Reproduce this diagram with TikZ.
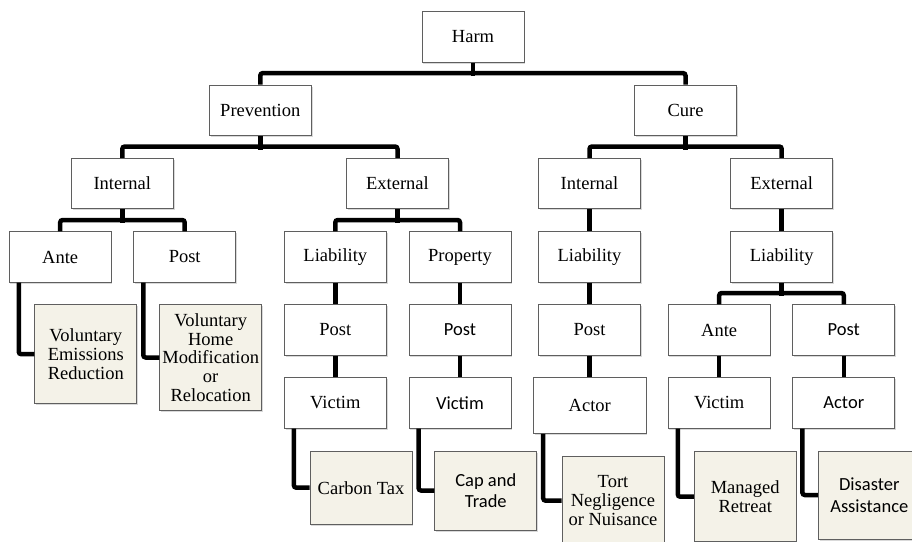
\documentclass[tikz,border=0pt]{standalone}
\usepackage{fontspec}
\setmainfont{Liberation Serif}
\newfontfamily\calibfont{Carlito}
\usetikzlibrary{shadows}
\definecolor{boxgray}{RGB}{95,95,95}
\definecolor{leafcol}{RGB}{244,242,232}
\begin{document}
\begin{tikzpicture}[x=1pt,y=-1pt,
  box/.style={draw=boxgray,line width=0.9pt,fill=white,minimum width=102pt,minimum height=50.5pt,inner sep=0pt,
    font=\fontsize{18.5}{18.7}\selectfont,
    drop shadow={shadow xshift=1.2pt,shadow yshift=-1.6pt,opacity=0.3}},
  sf/.style={font=\calibfont\fontsize{18.5}{21.5}\selectfont},
  leaf/.style={box,fill=leafcol,align=center},
  conn/.style={line width=4.5pt,rounded corners=2.5pt},
  stem/.style={line width=4.5pt}]
\clip (0,0) rectangle (912,541);
% level nodes
\node[box] (harm) at (473,37) {Harm};
\node[box] (prev) at (260.3,110.3) {Prevention};
\node[box] (cure) at (685.5,110.3) {Cure};
\node[box] (pint) at (122.3,183.5) {Internal};
\node[box] (pext) at (397.5,183.5) {External};
\node[box] (cint) at (589.5,183.5) {Internal};
\node[box] (cext) at (781.7,183.5) {External};
\node[box] (pante) at (60.2,257) {Ante};
\node[box] (ppost) at (184.7,257) {Post};
\node[box] (pliab) at (335.3,257) {Liability};
\node[box] (pprop) at (460,257) {Property};
\node[box] (cliab) at (589.5,257) {Liability};
\node[box] (celiab) at (781.7,257) {Liability};
\node[box] (lpost) at (335.3,330) {Post};
\node[box,sf] (prpost) at (460,330) {Post};
\node[box] (cipost) at (589.5,330) {Post};
\node[box] (ceante) at (719.2,330) {Ante};
\node[box,sf] (cepost) at (843.8,330) {Post};
\node[box] (lvict) at (335.3,403) {Victim};
\node[box,sf] (prvict) at (460,403) {Victim};
\node[box,minimum width=112.3pt,minimum height=55.6pt] (ciact) at (589.8,405.5) {Actor};
\node[box] (cevict) at (719.2,403) {Victim};
\node[box,sf] (ceact) at (843.8,403) {Actor};
% leaves
\node[leaf,minimum height=99pt] (ver) at (85.8,354.2) {Voluntary\\Emissions\\Reduction};
\node[leaf,minimum height=105.6pt] (vhm) at (210.7,357.5) {Voluntary\\Home\\Modification\\or\\Relocation};
\node[leaf,minimum height=73.3pt] (ctax) at (361,487.7) {Carbon Tax};
\node[leaf,sf,minimum height=79pt] (cat) at (485.8,490.5) {Cap and\\Trade};
\node[leaf,minimum height=88pt] (tort) at (613,500.7) {Tort\\Negligence\\or Nuisance};
\node[leaf,minimum height=90pt] (mr) at (745.2,496.7) {Managed\\Retreat};
\node[leaf,sf,minimum height=88pt] (da) at (869.3,495) {Disaster\\Assistance};
% tree connectors
\draw[stem] (harm.south) -- ++(0,13.5);
\draw[conn] (prev.north) -- ++(0,-11.5) -| (cure.north);
\draw[stem] (prev.south) -- ++(0,13.5);
\draw[conn] (pint.north) -- ++(0,-11.3) -| (pext.north);
\draw[stem] (cure.south) -- ++(0,13.5);
\draw[conn] (cint.north) -- ++(0,-11.3) -| (cext.north);
\draw[stem] (pint.south) -- ++(0,13.5);
\draw[conn] (pante.north) -- ++(0,-11.3) -| (ppost.north);
\draw[stem] (pext.south) -- ++(0,13.5);
\draw[conn] (pliab.north) -- ++(0,-11.3) -| (pprop.north);
\draw[stem] (cint.south) -- (cliab.north);
\draw[stem] (cext.south) -- (celiab.north);
\draw[stem] (celiab.south) -- ++(0,13.5);
\draw[conn] (ceante.north) -- ++(0,-11.3) -| (cepost.north);
\draw[stem] (pliab.south) -- (lpost.north);
\draw[stem] (lpost.south) -- (lvict.north);
\draw[stem] (pprop.south) -- (prpost.north);
\draw[stem] (prpost.south) -- (prvict.north);
\draw[stem] (cliab.south) -- (cipost.north);
\draw[stem] (cipost.south) -- (cipost.south |- ciact.north);
\draw[stem] (ceante.south) -- (cevict.north);
\draw[stem] (cepost.south) -- (ceact.north);
% leaf connectors
\draw[conn] ([xshift=10pt]pante.south west) |- (ver.west);
\draw[conn] ([xshift=10pt]ppost.south west) |- (vhm.west);
\draw[conn] ([xshift=10pt]lvict.south west) |- (ctax.west);
\draw[conn] ([xshift=10pt]prvict.south west) |- (cat.west);
\draw[conn] ([xshift=10pt]ciact.south west) |- (tort.west);
\draw[conn] ([xshift=10pt]cevict.south west) |- (mr.west);
\draw[conn] ([xshift=10pt]ceact.south west) |- (da.west);
\end{tikzpicture}
\end{document}
